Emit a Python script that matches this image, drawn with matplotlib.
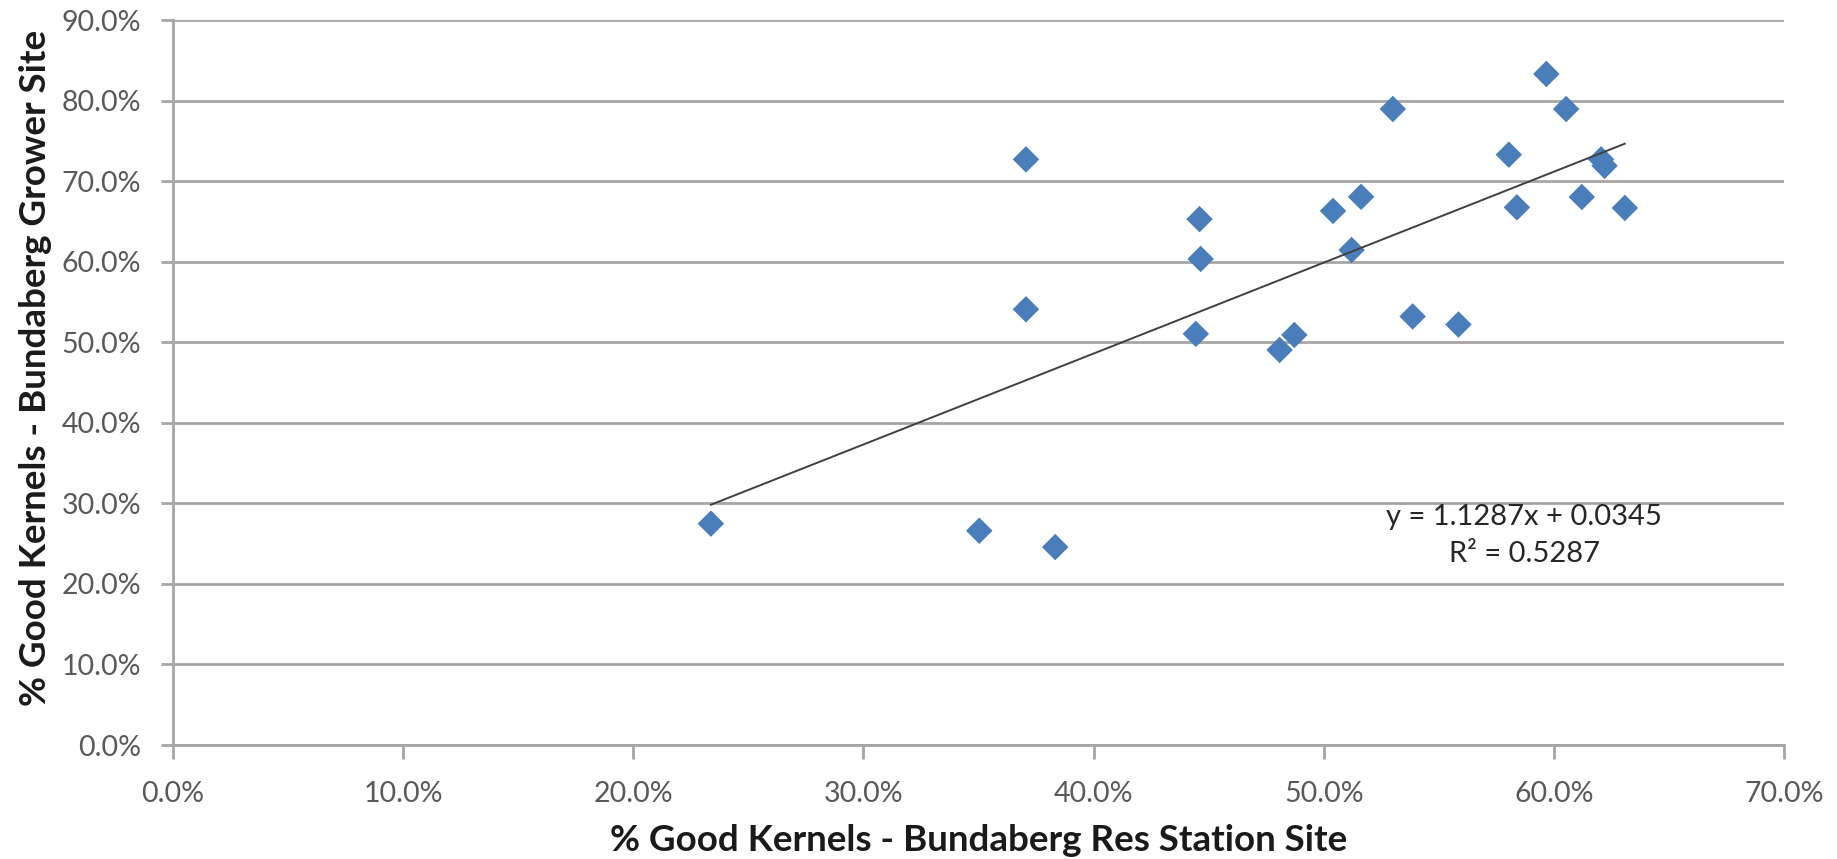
import numpy as np
import matplotlib
matplotlib.use("Agg")
import matplotlib.pyplot as plt
from matplotlib.ticker import PercentFormatter, MultipleLocator

plt.rcParams['font.family'] = ['Lato', 'DejaVu Sans']

# % good kernels at each site (percent)
res_station = [23.37, 35.03, 38.33, 37.06, 37.06, 44.60, 44.65, 44.44, 48.08, 48.72,
               50.40, 51.62, 51.21, 53.00, 53.86, 55.85, 58.04, 58.39, 59.67, 60.53,
               61.21, 62.05, 62.20, 63.08]
grower = [27.48, 26.60, 24.57, 72.70, 54.09, 65.28, 60.34, 51.04, 49.04, 50.90,
          66.30, 68.05, 61.45, 78.95, 53.20, 52.20, 73.28, 66.74, 83.30, 78.95,
          68.03, 72.70, 71.90, 66.67]

# linear trend (fraction form)
slope = 1.1287
intercept = 0.0345
r2 = 0.5287

fig = plt.figure(figsize=(18.37, 8.59), dpi=100)
ax = fig.add_axes([0.0942, 0.1327, 0.877, 0.844])

grid_col = '#a6a6a6'
ax.set_xlim(0, 70)
ax.set_ylim(0, 90)
ax.xaxis.set_major_locator(MultipleLocator(10))
ax.yaxis.set_major_locator(MultipleLocator(10))
ax.xaxis.set_major_formatter(PercentFormatter(100, decimals=1))
ax.yaxis.set_major_formatter(PercentFormatter(100, decimals=1))
ax.yaxis.grid(True, color=grid_col, linewidth=2)
ax.set_axisbelow(True)

for s in ['top', 'right']:
    ax.spines[s].set_visible(False)
for s in ['left', 'bottom']:
    ax.spines[s].set_color(grid_col)
    ax.spines[s].set_linewidth(2)

ax.tick_params(axis='both', colors=grid_col, width=2, labelcolor='#595959', labelsize=20.5)
ax.tick_params(axis='y', length=9, pad=14)
ax.tick_params(axis='x', length=10, pad=16)

ax.scatter(res_station, grower, marker='D', s=13.5 ** 2, color='#4a7ebb',
           edgecolors='none', zorder=3)

xs = np.array([min(res_station), max(res_station)])
ax.plot(xs, (slope * xs / 100 + intercept) * 100, color='#404040', linewidth=1.4, zorder=4)

ax.text(58.7, 28.3, 'y = {:.4f}x + {:.4f}'.format(slope, intercept),
        ha='center', va='center', fontsize=21, color='#262626')
ax.text(58.7, 23.7, 'R² = {:.4f}'.format(r2),
        ha='center', va='center', fontsize=21, color='#262626')

ax.set_xlabel('% Good Kernels - Bundaberg Res Station Site', fontsize=26.5,
              fontweight='bold', color='#1a1a1a', va='baseline')
ax.xaxis.set_label_coords(0.5, -0.146)
ax.set_ylabel('% Good Kernels - Bundaberg Grower Site', fontsize=26.5,
              fontweight='bold', color='#1a1a1a', va='center')
ax.yaxis.set_label_coords(-0.0855, 0.52)

fig.savefig('out.png', dpi=100)
